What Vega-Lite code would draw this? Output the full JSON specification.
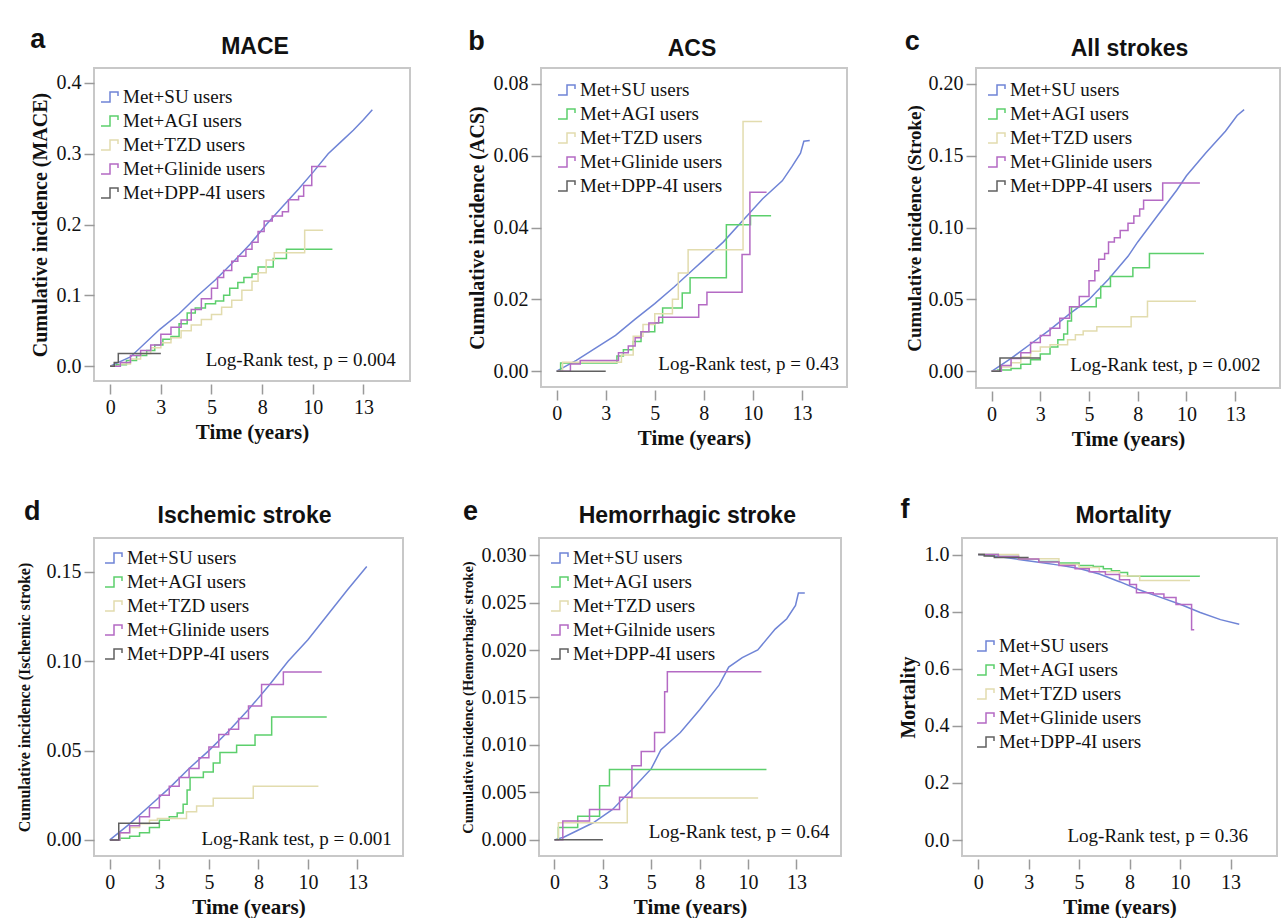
{
"$schema":"https://vega.github.io/schema/vega-lite/v6.json",
"background":"white",
"padding":{"left":15,"top":25,"right":4,"bottom":0},
"spacing":45,
"resolve":{"scale":{"color":"independent","x":"independent","y":"independent"},"legend":{"color":"independent"}},
"config":{
 "view":{"stroke":"#c8c8c8","strokeWidth":2},
 "font":"Liberation Serif",
 "axis":{"labelFont":"Liberation Serif","labelFontSize":20,"labelColor":"#111","titleFont":"Liberation Serif","titleFontWeight":"bold","titleColor":"#111","grid":false,"domain":false,"tickColor":"#9a9a9a","tickSize":10,"tickWidth":1.5,"labelPadding":3},
 "axisX":{"offset":3,"titleFontSize":21,"titlePadding":4,"labelPadding":3},
 "axisY":{"titlePadding":6},
 "legend":{"orient":"none","labelFont":"Liberation Serif","labelFontSize":19,"labelColor":"#111","symbolType":"M-1,0.5H-0.1V-0.5H0.7V-0.1","symbolSize":400,"symbolStrokeWidth":1.5,"rowPadding":3,"labelOffset":1,"padding":0},
 "text":{"font":"Liberation Serif","fontSize":19,"color":"#111"},
 "line":{"strokeWidth":1.5},
 "concat":{"spacing":55}
},
"datasets":{
"a":[
{"g":"SU","t":0,"v":0},{"g":"SU","t":1,"v":0.013},{"g":"SU","t":2.45,"v":0.052},{"g":"SU","t":3.4,"v":0.074},{"g":"SU","t":4.34,"v":0.1},{"g":"SU","t":5.2,"v":0.122},{"g":"SU","t":6,"v":0.145},{"g":"SU","t":6.9,"v":0.172},{"g":"SU","t":7.71,"v":0.2},{"g":"SU","t":8.5,"v":0.225},{"g":"SU","t":9.3,"v":0.25},{"g":"SU","t":10.05,"v":0.275},{"g":"SU","t":10.76,"v":0.3},{"g":"SU","t":11.4,"v":0.317},{"g":"SU","t":12,"v":0.333},{"g":"SU","t":12.5,"v":0.348},{"g":"SU","t":12.94,"v":0.362},
{"g":"AGI","t":0,"v":0},{"g":"AGI","t":0.3,"v":0.002},{"g":"AGI","t":0.8,"v":0.008},{"g":"AGI","t":1.3,"v":0.015},{"g":"AGI","t":1.8,"v":0.022},{"g":"AGI","t":2.2,"v":0.03},{"g":"AGI","t":2.6,"v":0.038},{"g":"AGI","t":3,"v":0.042},{"g":"AGI","t":3.4,"v":0.06},{"g":"AGI","t":3.8,"v":0.075},{"g":"AGI","t":4.2,"v":0.082},{"g":"AGI","t":4.7,"v":0.088},{"g":"AGI","t":5.2,"v":0.092},{"g":"AGI","t":5.6,"v":0.1},{"g":"AGI","t":5.9,"v":0.11},{"g":"AGI","t":6.3,"v":0.118},{"g":"AGI","t":6.6,"v":0.125},{"g":"AGI","t":7,"v":0.13},{"g":"AGI","t":7.3,"v":0.14},{"g":"AGI","t":8.05,"v":0.152},{"g":"AGI","t":8.7,"v":0.165},{"g":"AGI","t":10.97,"v":0.165},
{"g":"TZD","t":0,"v":0},{"g":"TZD","t":0.5,"v":0.003},{"g":"TZD","t":1,"v":0.01},{"g":"TZD","t":1.5,"v":0.018},{"g":"TZD","t":2,"v":0.026},{"g":"TZD","t":2.5,"v":0.033},{"g":"TZD","t":3,"v":0.04},{"g":"TZD","t":3.5,"v":0.05},{"g":"TZD","t":4,"v":0.058},{"g":"TZD","t":4.5,"v":0.066},{"g":"TZD","t":5,"v":0.073},{"g":"TZD","t":5.5,"v":0.083},{"g":"TZD","t":6,"v":0.093},{"g":"TZD","t":6.5,"v":0.107},{"g":"TZD","t":7,"v":0.12},{"g":"TZD","t":7.3,"v":0.132},{"g":"TZD","t":7.7,"v":0.15},{"g":"TZD","t":8.1,"v":0.16},{"g":"TZD","t":9.6,"v":0.192},{"g":"TZD","t":10.51,"v":0.192},
{"g":"Glinide","t":0,"v":0},{"g":"Glinide","t":0.5,"v":0.005},{"g":"Glinide","t":1,"v":0.015},{"g":"Glinide","t":1.5,"v":0.022},{"g":"Glinide","t":2,"v":0.03},{"g":"Glinide","t":2.5,"v":0.045},{"g":"Glinide","t":3,"v":0.055},{"g":"Glinide","t":3.5,"v":0.065},{"g":"Glinide","t":4,"v":0.08},{"g":"Glinide","t":4.5,"v":0.095},{"g":"Glinide","t":5,"v":0.11},{"g":"Glinide","t":5.3,"v":0.125},{"g":"Glinide","t":5.6,"v":0.135},{"g":"Glinide","t":6,"v":0.148},{"g":"Glinide","t":6.3,"v":0.155},{"g":"Glinide","t":6.7,"v":0.165},{"g":"Glinide","t":7,"v":0.175},{"g":"Glinide","t":7.3,"v":0.19},{"g":"Glinide","t":7.6,"v":0.205},{"g":"Glinide","t":8,"v":0.212},{"g":"Glinide","t":8.5,"v":0.218},{"g":"Glinide","t":8.8,"v":0.235},{"g":"Glinide","t":9.3,"v":0.24},{"g":"Glinide","t":9.55,"v":0.255},{"g":"Glinide","t":9.95,"v":0.282},{"g":"Glinide","t":10.67,"v":0.282},
{"g":"DPP-4I","t":0,"v":0},{"g":"DPP-4I","t":0.2,"v":0.005},{"g":"DPP-4I","t":0.4,"v":0.018},{"g":"DPP-4I","t":2.5,"v":0.018}
],
"b":[
{"g":"SU","t":0,"v":0},{"g":"SU","t":1,"v":0.003},{"g":"SU","t":2,"v":0.0065},{"g":"SU","t":3,"v":0.01},{"g":"SU","t":4,"v":0.0145},{"g":"SU","t":5,"v":0.0188},{"g":"SU","t":6,"v":0.0235},{"g":"SU","t":7,"v":0.0285},{"g":"SU","t":7.5,"v":0.031},{"g":"SU","t":8.5,"v":0.036},{"g":"SU","t":9.5,"v":0.042},{"g":"SU","t":10.5,"v":0.048},{"g":"SU","t":11.5,"v":0.053},{"g":"SU","t":12,"v":0.057},{"g":"SU","t":12.43,"v":0.0607},{"g":"SU","t":12.6,"v":0.064},{"g":"SU","t":12.9,"v":0.0642},
{"g":"AGI","t":0,"v":0},{"g":"AGI","t":0.2,"v":0.0023},{"g":"AGI","t":3.07,"v":0.0042},{"g":"AGI","t":3.4,"v":0.006},{"g":"AGI","t":3.9,"v":0.0083},{"g":"AGI","t":4.3,"v":0.011},{"g":"AGI","t":5.0,"v":0.0135},{"g":"AGI","t":5.4,"v":0.0176},{"g":"AGI","t":6.4,"v":0.0218},{"g":"AGI","t":6.8,"v":0.026},{"g":"AGI","t":8.65,"v":0.0408},{"g":"AGI","t":9.88,"v":0.0433},{"g":"AGI","t":10.93,"v":0.0433},
{"g":"TZD","t":0,"v":0},{"g":"TZD","t":0.3,"v":0.0025},{"g":"TZD","t":3.3,"v":0.0045},{"g":"TZD","t":3.9,"v":0.0097},{"g":"TZD","t":4.4,"v":0.013},{"g":"TZD","t":5.0,"v":0.016},{"g":"TZD","t":5.9,"v":0.02},{"g":"TZD","t":6.2,"v":0.0273},{"g":"TZD","t":6.7,"v":0.0338},{"g":"TZD","t":9.5,"v":0.0695},{"g":"TZD","t":10.47,"v":0.0695},
{"g":"Glinide","t":0,"v":0},{"g":"Glinide","t":0.7,"v":0.002},{"g":"Glinide","t":1.2,"v":0.003},{"g":"Glinide","t":3.15,"v":0.0051},{"g":"Glinide","t":3.65,"v":0.007},{"g":"Glinide","t":4.0,"v":0.0093},{"g":"Glinide","t":4.3,"v":0.011},{"g":"Glinide","t":4.7,"v":0.0134},{"g":"Glinide","t":5.2,"v":0.015},{"g":"Glinide","t":7.24,"v":0.0185},{"g":"Glinide","t":7.66,"v":0.022},{"g":"Glinide","t":9.45,"v":0.0325},{"g":"Glinide","t":9.85,"v":0.0498},{"g":"Glinide","t":10.7,"v":0.0498},
{"g":"DPP-4I","t":0,"v":0},{"g":"DPP-4I","t":2.5,"v":0}
],
"c":[
{"g":"SU","t":0,"v":0},{"g":"SU","t":1,"v":0.009},{"g":"SU","t":2,"v":0.019},{"g":"SU","t":3,"v":0.029},{"g":"SU","t":4,"v":0.04},{"g":"SU","t":5,"v":0.05},{"g":"SU","t":6,"v":0.064},{"g":"SU","t":7,"v":0.08},{"g":"SU","t":7.5,"v":0.09},{"g":"SU","t":8.5,"v":0.108},{"g":"SU","t":9.5,"v":0.126},{"g":"SU","t":10,"v":0.136},{"g":"SU","t":11,"v":0.152},{"g":"SU","t":12,"v":0.167},{"g":"SU","t":12.6,"v":0.178},{"g":"SU","t":12.96,"v":0.182},
{"g":"AGI","t":0,"v":0},{"g":"AGI","t":0.3,"v":0.001},{"g":"AGI","t":1,"v":0.002},{"g":"AGI","t":1.5,"v":0.005},{"g":"AGI","t":2,"v":0.008},{"g":"AGI","t":2.5,"v":0.012},{"g":"AGI","t":3,"v":0.017},{"g":"AGI","t":3.4,"v":0.022},{"g":"AGI","t":3.7,"v":0.026},{"g":"AGI","t":3.9,"v":0.035},{"g":"AGI","t":4.1,"v":0.045},{"g":"AGI","t":5.37,"v":0.051},{"g":"AGI","t":5.6,"v":0.059},{"g":"AGI","t":6.1,"v":0.066},{"g":"AGI","t":7.25,"v":0.072},{"g":"AGI","t":8.1,"v":0.082},{"g":"AGI","t":10.9,"v":0.082},
{"g":"TZD","t":0,"v":0},{"g":"TZD","t":0.5,"v":0.003},{"g":"TZD","t":1,"v":0.006},{"g":"TZD","t":1.5,"v":0.01},{"g":"TZD","t":2,"v":0.014},{"g":"TZD","t":2.5,"v":0.017},{"g":"TZD","t":3.0,"v":0.0185},{"g":"TZD","t":3.9,"v":0.022},{"g":"TZD","t":4.3,"v":0.0255},{"g":"TZD","t":4.7,"v":0.028},{"g":"TZD","t":5.4,"v":0.031},{"g":"TZD","t":7.16,"v":0.038},{"g":"TZD","t":8.0,"v":0.0487},{"g":"TZD","t":10.49,"v":0.0487},
{"g":"Glinide","t":0,"v":0},{"g":"Glinide","t":0.5,"v":0.004},{"g":"Glinide","t":1,"v":0.009},{"g":"Glinide","t":1.5,"v":0.013},{"g":"Glinide","t":2,"v":0.02},{"g":"Glinide","t":2.5,"v":0.025},{"g":"Glinide","t":3,"v":0.03},{"g":"Glinide","t":3.5,"v":0.037},{"g":"Glinide","t":4,"v":0.045},{"g":"Glinide","t":4.5,"v":0.052},{"g":"Glinide","t":5,"v":0.063},{"g":"Glinide","t":5.3,"v":0.07},{"g":"Glinide","t":5.5,"v":0.078},{"g":"Glinide","t":5.8,"v":0.082},{"g":"Glinide","t":6,"v":0.09},{"g":"Glinide","t":6.3,"v":0.093},{"g":"Glinide","t":6.6,"v":0.098},{"g":"Glinide","t":7,"v":0.103},{"g":"Glinide","t":7.3,"v":0.108},{"g":"Glinide","t":7.6,"v":0.113},{"g":"Glinide","t":7.8,"v":0.119},{"g":"Glinide","t":8.78,"v":0.131},{"g":"Glinide","t":10.69,"v":0.131},
{"g":"DPP-4I","t":0,"v":0},{"g":"DPP-4I","t":0.43,"v":0.0093},{"g":"DPP-4I","t":2.5,"v":0.0093}
],
"d":[
{"g":"SU","t":0,"v":0},{"g":"SU","t":1,"v":0.009},{"g":"SU","t":2,"v":0.019},{"g":"SU","t":3,"v":0.029},{"g":"SU","t":4,"v":0.04},{"g":"SU","t":5,"v":0.05},{"g":"SU","t":6,"v":0.061},{"g":"SU","t":7,"v":0.073},{"g":"SU","t":8,"v":0.086},{"g":"SU","t":9,"v":0.1},{"g":"SU","t":10,"v":0.112},{"g":"SU","t":11,"v":0.126},{"g":"SU","t":12,"v":0.14},{"g":"SU","t":12.97,"v":0.153},
{"g":"AGI","t":0,"v":0},{"g":"AGI","t":0.5,"v":0.001},{"g":"AGI","t":1,"v":0.002},{"g":"AGI","t":1.5,"v":0.004},{"g":"AGI","t":2,"v":0.007},{"g":"AGI","t":2.5,"v":0.011},{"g":"AGI","t":3,"v":0.013},{"g":"AGI","t":3.4,"v":0.015},{"g":"AGI","t":3.7,"v":0.02},{"g":"AGI","t":3.9,"v":0.028},{"g":"AGI","t":4.05,"v":0.035},{"g":"AGI","t":4.72,"v":0.038},{"g":"AGI","t":5.22,"v":0.043},{"g":"AGI","t":5.56,"v":0.049},{"g":"AGI","t":6.4,"v":0.053},{"g":"AGI","t":7.33,"v":0.0587},{"g":"AGI","t":8.17,"v":0.0688},{"g":"AGI","t":10.95,"v":0.0688},
{"g":"TZD","t":0,"v":0},{"g":"TZD","t":0.5,"v":0.004},{"g":"TZD","t":1,"v":0.007},{"g":"TZD","t":1.5,"v":0.009},{"g":"TZD","t":2,"v":0.011},{"g":"TZD","t":2.4,"v":0.012},{"g":"TZD","t":3.87,"v":0.0158},{"g":"TZD","t":4.38,"v":0.019},{"g":"TZD","t":5.22,"v":0.0233},{"g":"TZD","t":7.24,"v":0.03},{"g":"TZD","t":10.53,"v":0.03},
{"g":"Glinide","t":0,"v":0},{"g":"Glinide","t":0.5,"v":0.004},{"g":"Glinide","t":1,"v":0.008},{"g":"Glinide","t":1.5,"v":0.013},{"g":"Glinide","t":2,"v":0.018},{"g":"Glinide","t":2.5,"v":0.025},{"g":"Glinide","t":3,"v":0.03},{"g":"Glinide","t":3.5,"v":0.035},{"g":"Glinide","t":4,"v":0.04},{"g":"Glinide","t":4.5,"v":0.046},{"g":"Glinide","t":5,"v":0.052},{"g":"Glinide","t":5.5,"v":0.059},{"g":"Glinide","t":6,"v":0.062},{"g":"Glinide","t":6.5,"v":0.068},{"g":"Glinide","t":7,"v":0.075},{"g":"Glinide","t":7.66,"v":0.087},{"g":"Glinide","t":8.76,"v":0.094},{"g":"Glinide","t":10.7,"v":0.094},
{"g":"DPP-4I","t":0,"v":0},{"g":"DPP-4I","t":0.45,"v":0.0093},{"g":"DPP-4I","t":2.5,"v":0.0093}
],
"e":[
{"g":"SU","t":0,"v":0},{"g":"SU","t":0.5,"v":0.0003},{"g":"SU","t":1,"v":0.0008},{"g":"SU","t":2,"v":0.0018},{"g":"SU","t":3,"v":0.0032},{"g":"SU","t":4,"v":0.0053},{"g":"SU","t":5,"v":0.0075},{"g":"SU","t":5.5,"v":0.0095},{"g":"SU","t":6.5,"v":0.0113},{"g":"SU","t":7.5,"v":0.0137},{"g":"SU","t":8.5,"v":0.0163},{"g":"SU","t":9,"v":0.0182},{"g":"SU","t":9.7,"v":0.0192},{"g":"SU","t":10.5,"v":0.02},{"g":"SU","t":11.4,"v":0.0222},{"g":"SU","t":12,"v":0.0233},{"g":"SU","t":12.45,"v":0.0247},{"g":"SU","t":12.6,"v":0.026},{"g":"SU","t":12.93,"v":0.026},
{"g":"AGI","t":0,"v":0},{"g":"AGI","t":0.2,"v":0.0013},{"g":"AGI","t":1.2,"v":0.0025},{"g":"AGI","t":2.33,"v":0.0057},{"g":"AGI","t":2.84,"v":0.0074},{"g":"AGI","t":10.95,"v":0.0074},
{"g":"TZD","t":0,"v":0},{"g":"TZD","t":0.2,"v":0.0018},{"g":"TZD","t":3.76,"v":0.0044},{"g":"TZD","t":10.52,"v":0.0044},
{"g":"Gilnide","t":0,"v":0},{"g":"Gilnide","t":0.43,"v":0.002},{"g":"Gilnide","t":1.81,"v":0.0032},{"g":"Gilnide","t":3.36,"v":0.0045},{"g":"Gilnide","t":4.0,"v":0.0078},{"g":"Gilnide","t":4.48,"v":0.0093},{"g":"Gilnide","t":5.17,"v":0.0113},{"g":"Gilnide","t":5.69,"v":0.0156},{"g":"Gilnide","t":5.83,"v":0.0177},{"g":"Gilnide","t":10.69,"v":0.0177},
{"g":"DPP-4I","t":0,"v":0},{"g":"DPP-4I","t":2.5,"v":0}
],
"f":[
{"g":"SU","t":0,"v":1},{"g":"SU","t":1,"v":0.993},{"g":"SU","t":2,"v":0.983},{"g":"SU","t":3,"v":0.973},{"g":"SU","t":4,"v":0.963},{"g":"SU","t":5,"v":0.951},{"g":"SU","t":6,"v":0.932},{"g":"SU","t":7,"v":0.905},{"g":"SU","t":8,"v":0.876},{"g":"SU","t":9,"v":0.851},{"g":"SU","t":10,"v":0.826},{"g":"SU","t":11,"v":0.797},{"g":"SU","t":12,"v":0.772},{"g":"SU","t":12.93,"v":0.756},
{"g":"AGI","t":0,"v":1},{"g":"AGI","t":1,"v":0.993},{"g":"AGI","t":2,"v":0.984},{"g":"AGI","t":3,"v":0.976},{"g":"AGI","t":4,"v":0.97},{"g":"AGI","t":5,"v":0.962},{"g":"AGI","t":5.7,"v":0.958},{"g":"AGI","t":6.2,"v":0.95},{"g":"AGI","t":6.6,"v":0.943},{"g":"AGI","t":7,"v":0.937},{"g":"AGI","t":7.4,"v":0.924},{"g":"AGI","t":10.95,"v":0.922},
{"g":"TZD","t":0,"v":1},{"g":"TZD","t":2,"v":0.985},{"g":"TZD","t":4,"v":0.965},{"g":"TZD","t":5,"v":0.955},{"g":"TZD","t":6,"v":0.94},{"g":"TZD","t":7,"v":0.925},{"g":"TZD","t":8,"v":0.909},{"g":"TZD","t":10.49,"v":0.909},
{"g":"Glinide","t":0,"v":1},{"g":"Glinide","t":1,"v":0.993},{"g":"Glinide","t":2,"v":0.984},{"g":"Glinide","t":3,"v":0.974},{"g":"Glinide","t":4,"v":0.962},{"g":"Glinide","t":4.8,"v":0.95},{"g":"Glinide","t":5.5,"v":0.94},{"g":"Glinide","t":6.3,"v":0.93},{"g":"Glinide","t":7,"v":0.912},{"g":"Glinide","t":7.5,"v":0.895},{"g":"Glinide","t":7.84,"v":0.866},{"g":"Glinide","t":8.67,"v":0.862},{"g":"Glinide","t":9.2,"v":0.85},{"g":"Glinide","t":9.8,"v":0.825},{"g":"Glinide","t":10.57,"v":0.737},{"g":"Glinide","t":10.7,"v":0.737},
{"g":"DPP-4I","t":0,"v":1},{"g":"DPP-4I","t":0.3,"v":0.995},{"g":"DPP-4I","t":0.8,"v":0.99},{"g":"DPP-4I","t":2.5,"v":0.99}
]
},
"vconcat":[
{"resolve":{"scale":{"color":"independent","x":"independent","y":"independent"},"legend":{"color":"independent"}},
"hconcat":[
{"width":316,"height":313,
 "layer":[
  {"data":{"name":"a"},"transform":[{"filter":"datum.g == 'SU'"}],"mark":{"type":"line","interpolate":"linear"},"encoding":{"x":{"field":"t","type":"quantitative","scale":{"domain":[-0.8,14.8],"nice":false,"zero":false},"axis":{"title":"Time (years)","values":[0,2.5,5,7.5,10,12.5],"format":".0f"}},
  "y":{"field":"v","type":"quantitative","scale":{"domain":[-0.021,0.421],"nice":false,"zero":false},"axis":{"title":"Cumulative incidence (MACE)","titleFontSize":20,"values":[0,0.1,0.2,0.3,0.4],"format":".1f"}},"color":{"field":"g","type":"nominal","scale":{"domain":["SU","AGI","TZD","Glinide","DPP-4I"],"range":["#6f84d6","#5ccf6c","#e2dcae","#b46ac4","#606060"]},"legend":{"title":null,"legendX":6,"legendY":18,"labelExpr":"'Met+' + datum.label + ' users'"}}}},
  {"data":{"name":"a"},"transform":[{"filter":"datum.g != 'SU'"}],"mark":{"type":"line","interpolate":"step-after"},"encoding":{"x":{"field":"t","type":"quantitative"},"y":{"field":"v","type":"quantitative"},"color":{"field":"g","type":"nominal"}}},
  {"data":{"values":[{"s":"Log-Rank test, p = 0.004"}]},"mark":{"type":"text","align":"right","baseline":"middle"},"encoding":{"x":{"datum":14.1},"y":{"datum":0.008},"text":{"field":"s"}}},
  {"data":{"values":[{"s":"MACE"}]},"mark":{"type":"text","align":"center","baseline":"alphabetic","fontSize":23,"font":"Liberation Sans","fontWeight":"bold"},"encoding":{"x":{"datum":7.15},"y":{"datum":0.4404},"text":{"field":"s"}}},
  {"data":{"values":[{"s":"a"}]},"mark":{"type":"text","align":"left","baseline":"alphabetic","fontSize":27,"font":"Liberation Sans","fontWeight":"bold"},"encoding":{"x":{"datum":-3.95},"y":{"datum":0.449},"text":{"field":"s"}}}
 ]},
{"width":306,"height":319,
 "layer":[
  {"data":{"name":"b"},"transform":[{"filter":"datum.g == 'SU'"}],"mark":{"type":"line","interpolate":"linear"},"encoding":{"x":{"field":"t","type":"quantitative","scale":{"domain":[-0.8,14.8],"nice":false,"zero":false},"axis":{"title":"Time (years)","values":[0,2.5,5,7.5,10,12.5],"format":".0f"}},
  "y":{"field":"v","type":"quantitative","scale":{"domain":[-0.0044,0.0844],"nice":false,"zero":false},"axis":{"title":"Cumulative incidence (ACS)","titleFontSize":20,"values":[0,0.02,0.04,0.06,0.08],"format":".2f"}},"color":{"field":"g","type":"nominal","scale":{"domain":["SU","AGI","TZD","Glinide","DPP-4I"],"range":["#6f84d6","#5ccf6c","#e2dcae","#b46ac4","#606060"]},"legend":{"title":null,"legendX":16,"legendY":11,"labelExpr":"'Met+' + datum.label + ' users'"}}}},
  {"data":{"name":"b"},"transform":[{"filter":"datum.g != 'SU'"}],"mark":{"type":"line","interpolate":"step-after"},"encoding":{"x":{"field":"t","type":"quantitative"},"y":{"field":"v","type":"quantitative"},"color":{"field":"g","type":"nominal"}}},
  {"data":{"values":[{"s":"Log-Rank test, p = 0.43"}]},"mark":{"type":"text","align":"right","baseline":"middle"},"encoding":{"x":{"datum":14.39},"y":{"datum":0.0019},"text":{"field":"s"}}},
  {"data":{"values":[{"s":"ACS"}]},"mark":{"type":"text","align":"center","baseline":"alphabetic","fontSize":23,"font":"Liberation Sans","fontWeight":"bold"},"encoding":{"x":{"datum":6.9},"y":{"datum":0.0877},"text":{"field":"s"}}},
  {"data":{"values":[{"s":"b"}]},"mark":{"type":"text","align":"left","baseline":"alphabetic","fontSize":27,"font":"Liberation Sans","fontWeight":"bold"},"encoding":{"x":{"datum":-4.51},"y":{"datum":0.0895},"text":{"field":"s"}}}
 ]},
{"width":304,"height":320,
 "layer":[
  {"data":{"name":"c"},"transform":[{"filter":"datum.g == 'SU'"}],"mark":{"type":"line","interpolate":"linear"},"encoding":{"x":{"field":"t","type":"quantitative","scale":{"domain":[-0.8,14.8],"nice":false,"zero":false},"axis":{"title":"Time (years)","values":[0,2.5,5,7.5,10,12.5],"format":".0f"}},
  "y":{"field":"v","type":"quantitative","scale":{"domain":[-0.0116,0.211],"nice":false,"zero":false},"axis":{"title":"Cumulative incidence (Stroke)","titleFontSize":19,"titlePadding":4,"values":[0,0.05,0.1,0.15,0.2],"format":".2f"}},"color":{"field":"g","type":"nominal","scale":{"domain":["SU","AGI","TZD","Glinide","DPP-4I"],"range":["#6f84d6","#5ccf6c","#e2dcae","#b46ac4","#606060"]},"legend":{"title":null,"legendX":11,"legendY":11,"labelExpr":"'Met+' + datum.label + ' users'"}}}},
  {"data":{"name":"c"},"transform":[{"filter":"datum.g != 'SU'"}],"mark":{"type":"line","interpolate":"step-after"},"encoding":{"x":{"field":"t","type":"quantitative"},"y":{"field":"v","type":"quantitative"},"color":{"field":"g","type":"nominal"}}},
  {"data":{"values":[{"s":"Log-Rank test, p = 0.002"}]},"mark":{"type":"text","align":"right","baseline":"middle"},"encoding":{"x":{"datum":13.8},"y":{"datum":0.0046},"text":{"field":"s"}}},
  {"data":{"values":[{"s":"All strokes"}]},"mark":{"type":"text","align":"center","baseline":"alphabetic","fontSize":23,"font":"Liberation Sans","fontWeight":"bold"},"encoding":{"x":{"datum":7.08},"y":{"datum":0.2191},"text":{"field":"s"}}},
  {"data":{"values":[{"s":"c"}]},"mark":{"type":"text","align":"left","baseline":"alphabetic","fontSize":27,"font":"Liberation Sans","fontWeight":"bold"},"encoding":{"x":{"datum":-4.45},"y":{"datum":0.2237},"text":{"field":"s"}}}
 ]}
]},
{"resolve":{"scale":{"color":"independent","x":"independent","y":"independent"},"legend":{"color":"independent"}},
"hconcat":[
{"width":309,"height":318,
 "layer":[
  {"data":{"name":"d"},"transform":[{"filter":"datum.g == 'SU'"}],"mark":{"type":"line","interpolate":"linear"},"encoding":{"x":{"field":"t","type":"quantitative","scale":{"domain":[-0.8,14.8],"nice":false,"zero":false},"axis":{"title":"Time (years)","values":[0,2.5,5,7.5,10,12.5],"format":".0f"}},
  "y":{"field":"v","type":"quantitative","scale":{"domain":[-0.009,0.169],"nice":false,"zero":false},"axis":{"title":"Cumulative incidence (Ischemic stroke)","titleFontSize":16,"titlePadding":14,"values":[0,0.05,0.1,0.15],"format":".2f"}},"color":{"field":"g","type":"nominal","scale":{"domain":["SU","AGI","TZD","Glinide","DPP-4I"],"range":["#6f84d6","#5ccf6c","#e2dcae","#b46ac4","#606060"]},"legend":{"title":null,"legendX":10,"legendY":9,"labelExpr":"'Met+' + datum.label + ' users'"}}}},
  {"data":{"name":"d"},"transform":[{"filter":"datum.g != 'SU'"}],"mark":{"type":"line","interpolate":"step-after"},"encoding":{"x":{"field":"t","type":"quantitative"},"y":{"field":"v","type":"quantitative"},"color":{"field":"g","type":"nominal"}}},
  {"data":{"values":[{"s":"Log-Rank test, p = 0.001"}]},"mark":{"type":"text","align":"right","baseline":"middle"},"encoding":{"x":{"datum":14.23},"y":{"datum":0.0003},"text":{"field":"s"}}},
  {"data":{"values":[{"s":"Ischemic stroke"}]},"mark":{"type":"text","align":"center","baseline":"alphabetic","fontSize":23,"font":"Liberation Sans","fontWeight":"bold"},"encoding":{"x":{"datum":6.8},"y":{"datum":0.1774},"text":{"field":"s"}}},
  {"data":{"values":[{"s":"d"}]},"mark":{"type":"text","align":"left","baseline":"alphabetic","fontSize":27,"font":"Liberation Sans","fontWeight":"bold"},"encoding":{"x":{"datum":-4.34},"y":{"datum":0.1789},"text":{"field":"s"}}}
 ]},
{"width":302,"height":318,
 "layer":[
  {"data":{"name":"e"},"transform":[{"filter":"datum.g == 'SU'"}],"mark":{"type":"line","interpolate":"linear"},"encoding":{"x":{"field":"t","type":"quantitative","scale":{"domain":[-0.8,14.8],"nice":false,"zero":false},"axis":{"title":"Time (years)","values":[0,2.5,5,7.5,10,12.5],"format":".0f"}},
  "y":{"field":"v","type":"quantitative","scale":{"domain":[-0.0017,0.0318],"nice":false,"zero":false},"axis":{"title":"Cumulative incidence (Hemorrhagic stroke)","titleFontSize":14.5,"values":[0,0.005,0.01,0.015,0.02,0.025,0.03],"format":".3f"}},"color":{"field":"g","type":"nominal","scale":{"domain":["SU","AGI","TZD","Gilnide","DPP-4I"],"range":["#6f84d6","#5ccf6c","#e2dcae","#b46ac4","#606060"]},"legend":{"title":null,"legendX":11,"legendY":9,"labelExpr":"'Met+' + datum.label + ' users'"}}}},
  {"data":{"name":"e"},"transform":[{"filter":"datum.g != 'SU'"}],"mark":{"type":"line","interpolate":"step-after"},"encoding":{"x":{"field":"t","type":"quantitative"},"y":{"field":"v","type":"quantitative"},"color":{"field":"g","type":"nominal"}}},
  {"data":{"values":[{"s":"Log-Rank test, p = 0.64"}]},"mark":{"type":"text","align":"right","baseline":"middle"},"encoding":{"x":{"datum":14.2},"y":{"datum":0.00087},"text":{"field":"s"}}},
  {"data":{"values":[{"s":"Hemorrhagic stroke"}]},"mark":{"type":"text","align":"center","baseline":"alphabetic","fontSize":23,"font":"Liberation Sans","fontWeight":"bold"},"encoding":{"x":{"datum":6.86},"y":{"datum":0.0334},"text":{"field":"s"}}},
  {"data":{"values":[{"s":"e"}]},"mark":{"type":"text","align":"left","baseline":"alphabetic","fontSize":27,"font":"Liberation Sans","fontWeight":"bold"},"encoding":{"x":{"datum":-4.73},"y":{"datum":0.0337},"text":{"field":"s"}}}
 ]},
{"width":315,"height":318,
 "layer":[
  {"data":{"name":"f"},"transform":[{"filter":"datum.g == 'SU'"}],"mark":{"type":"line","interpolate":"linear"},"encoding":{"x":{"field":"t","type":"quantitative","scale":{"domain":[-0.8,14.8],"nice":false,"zero":false},"axis":{"title":"Time (years)","values":[0,2.5,5,7.5,10,12.5],"format":".0f"}},
  "y":{"field":"v","type":"quantitative","scale":{"domain":[-0.056,1.058],"nice":false,"zero":false},"axis":{"title":"Mortality","titleFontSize":20,"titlePadding":6,"values":[0,0.2,0.4,0.6,0.8,1],"format":".1f"}},"color":{"field":"g","type":"nominal","scale":{"domain":["SU","AGI","TZD","Glinide","DPP-4I"],"range":["#6f84d6","#5ccf6c","#e2dcae","#b46ac4","#606060"]},"legend":{"title":null,"legendX":14,"legendY":97,"labelExpr":"'Met+' + datum.label + ' users'"}}}},
  {"data":{"name":"f"},"transform":[{"filter":"datum.g != 'SU'"}],"mark":{"type":"line","interpolate":"step-after"},"encoding":{"x":{"field":"t","type":"quantitative"},"y":{"field":"v","type":"quantitative"},"color":{"field":"g","type":"nominal"}}},
  {"data":{"values":[{"s":"Log-Rank test, p = 0.36"}]},"mark":{"type":"text","align":"right","baseline":"middle"},"encoding":{"x":{"datum":13.37},"y":{"datum":0.014},"text":{"field":"s"}}},
  {"data":{"values":[{"s":"Mortality"}]},"mark":{"type":"text","align":"center","baseline":"alphabetic","fontSize":23,"font":"Liberation Sans","fontWeight":"bold"},"encoding":{"x":{"datum":7.19},"y":{"datum":1.1105},"text":{"field":"s"}}},
  {"data":{"values":[{"s":"f"}]},"mark":{"type":"text","align":"left","baseline":"alphabetic","fontSize":27,"font":"Liberation Sans","fontWeight":"bold"},"encoding":{"x":{"datum":-3.84},"y":{"datum":1.128},"text":{"field":"s"}}}
 ]}
]}
]
}
